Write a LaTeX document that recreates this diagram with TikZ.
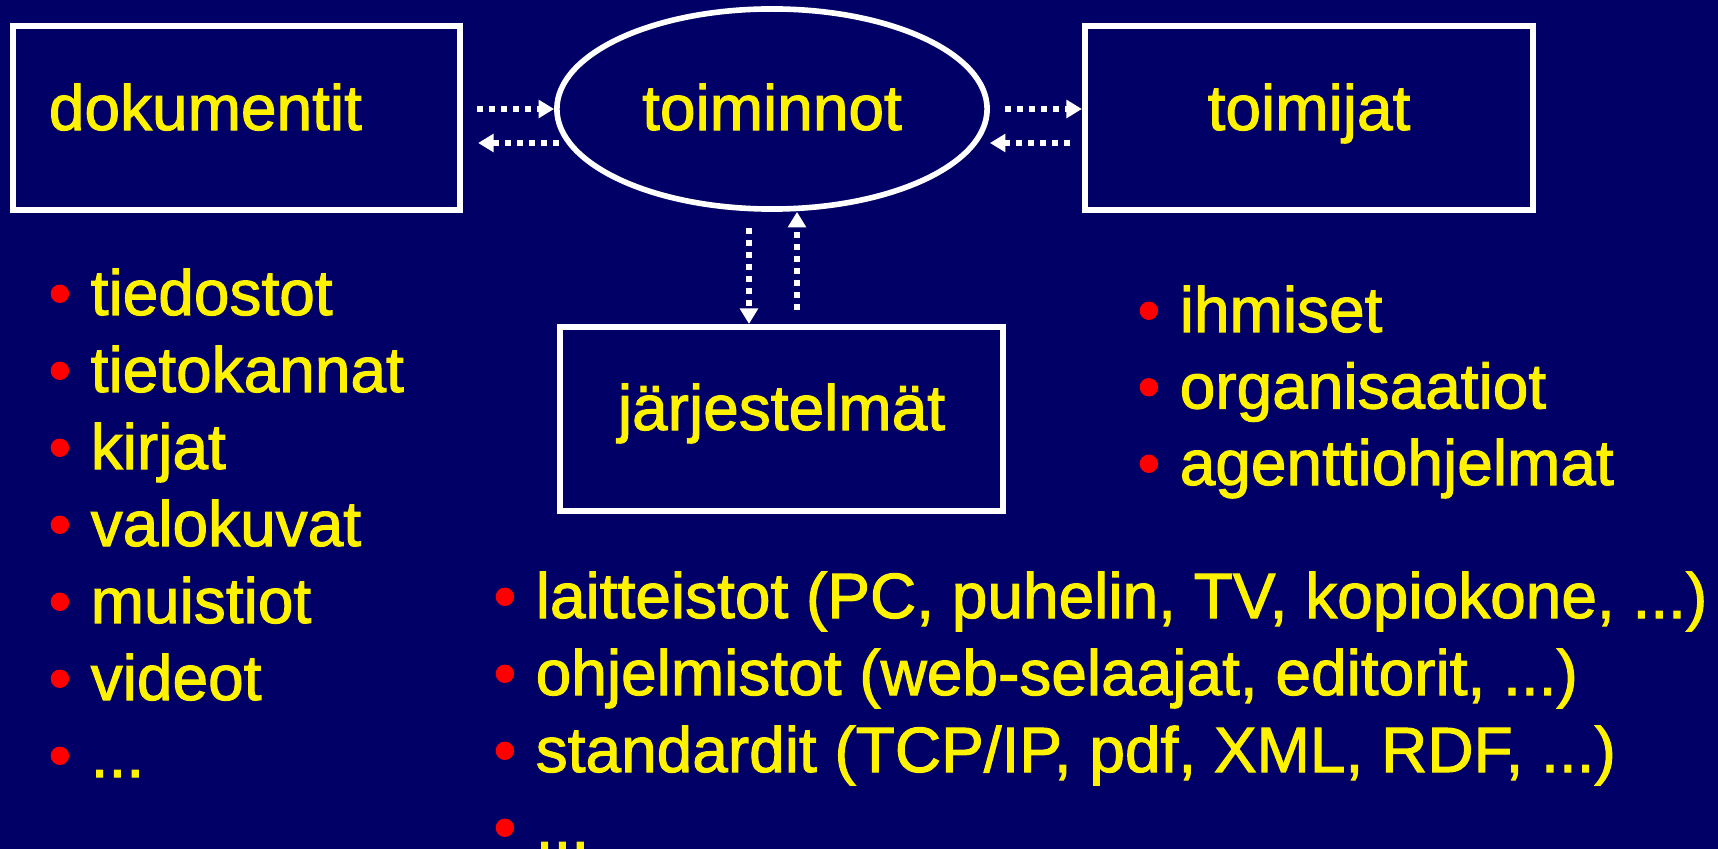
\documentclass[tikz,border=0pt]{standalone}
\usepackage{fontspec}
\setmainfont{Liberation Sans}[FakeBold=1.6]
\usetikzlibrary{shapes.geometric,arrows.meta}
\definecolor{slidebg}{RGB}{0,0,102}
\newcommand{\bul}{\makebox[0.42cm][l]{\color{red}\textbullet}}
\newcommand{\etc}{...}

\begin{document}
\begin{tikzpicture}[x=0.01cm, y=-0.01cm, font=\fontsize{18.2pt}{0.77cm}\selectfont,
	box/.style={draw=white, line width=1.7pt, minimum height=1.84cm, text=yellow, text height=0.47cm, text depth=0.23cm},
	flow/.style={draw=white, line width=1.65pt, dash pattern=on 1.65pt off 1.76pt, -{Triangle[length=4.4pt, width=5pt]}},
	item/.style={anchor=base west, text=yellow, inner sep=0pt}]
	\useasboundingbox (0,0) rectangle (1718,849);
	\fill[slidebg] (0,0) rectangle (1718,849);

	% the three boxes and the ellipse
	\node[box, minimum width=4.47cm, text width=3.75cm, align=left, inner xsep=0.36cm] (dok) at (236.5,118) {dokumentit};
	\node[draw=white, ellipse, line width=1.6pt, minimum width=4.3cm, minimum height=2cm, text=yellow, text height=0.47cm, text depth=0.05cm] (toim) at (772,109) {toiminnot};
	\node[box, minimum width=4.48cm] (tja) at (1309,118) {toimijat};
	\node[box, minimum width=4.43cm, text depth=0.25cm] (jarj) at (781.5,419) {järjestelmät};

	% dotted arrows
	\coordinate (dl) at (dok.east |- toim.west);
	\coordinate (tl) at (tja.west |- toim.east);
	\coordinate (jt) at (toim.south |- jarj.north);
	\draw[flow, shorten <=0.14cm] (dl) -- (toim.west);
	\draw[flow, shorten >=0.15cm] ([shift={(5,34)}]toim.west) -- ([shift={(0,34)}]dl);
	\draw[flow, shorten <=0.15cm] (toim.east) -- (tl);
	\draw[flow, shorten <=0.12cm] ([shift={(0,34)}]tl) -- ([shift={(0,34)}]toim.east);
	\draw[flow, shorten <=0.16cm] ([xshift=-0.23cm]toim.south) -- ([xshift=-0.23cm]jt);
	\draw[flow, shorten <=0.14cm] ([xshift=0.25cm]jt) -- ([xshift=0.25cm]toim.south);

	% lists
	\foreach \t [count=\i from 0] in {tiedostot, tietokannat, kirjat, valokuvat, muistiot, videot, \etc}
		\node[item] (dok-\i) at (48,315+77*\i) {\bul\t};
	\foreach \t [count=\i from 0] in {ihmiset, organisaatiot, agenttiohjelmat}
		\node[item] (tja-\i) at (1137,332+76.5*\i) {\bul\t};
	\foreach \t [count=\i from 0] in {{laitteistot (PC, puhelin, TV, kopiokone, \etc)}, {ohjelmistot (web-selaajat, editorit, \etc)}, {standardit (TCP/IP, pdf, XML, RDF, \etc)}, \etc}
		\node[item] (jarj-\i) at (493,618+77*\i) {\bul\t};
\end{tikzpicture}
\end{document}
